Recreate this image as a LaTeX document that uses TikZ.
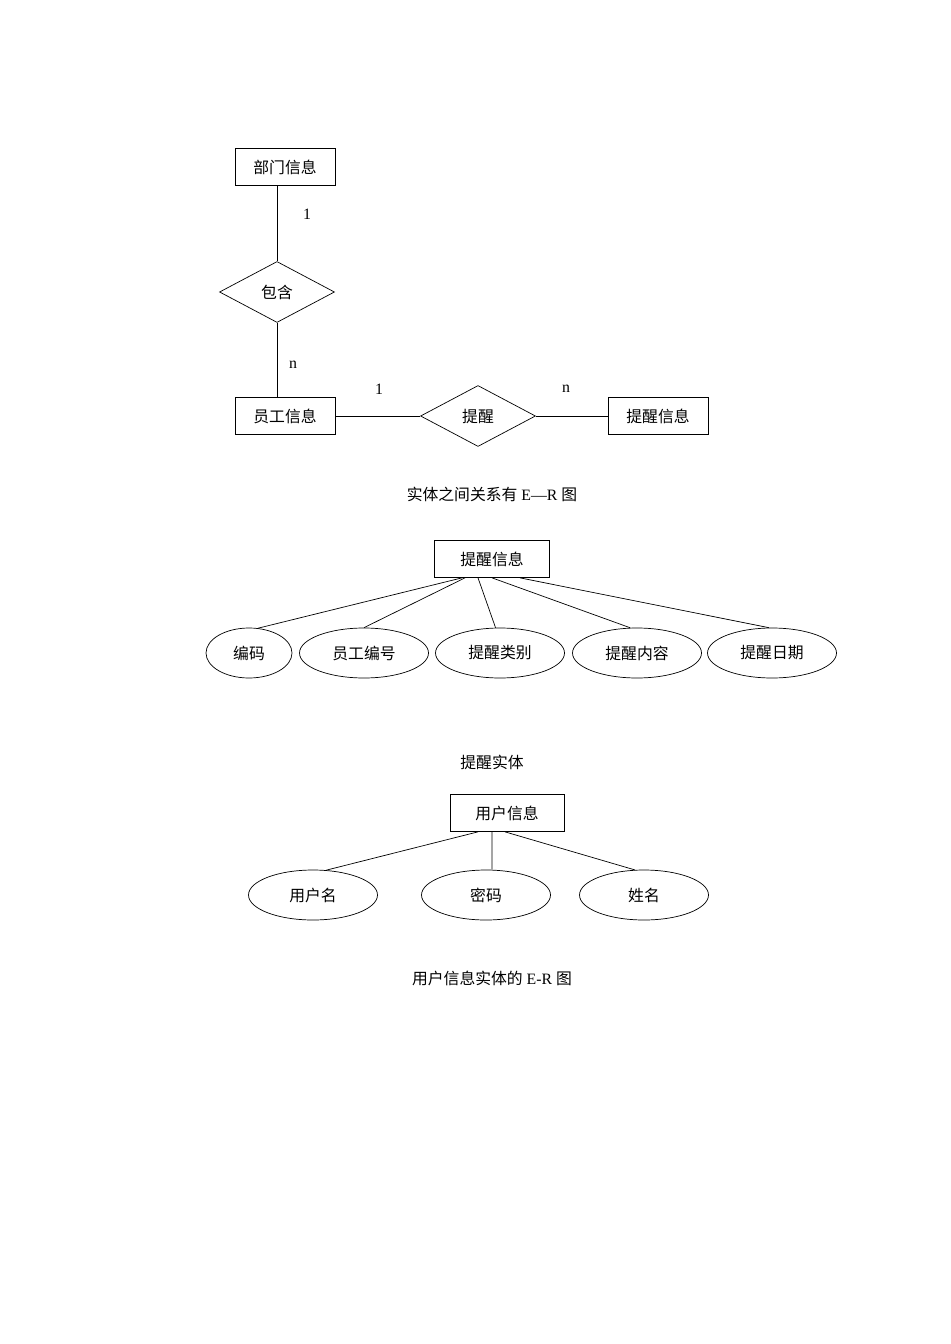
\documentclass[tikz,border=0pt]{standalone}
\usepackage{fontspec}
\setmainfont{Liberation Serif}
\newfontfamily\cjk{Noto Sans CJK SC}
\usetikzlibrary{shapes.geometric,positioning}
\begin{document}
\begin{tikzpicture}
[x=0.02cm, y=-0.02cm, font=\fontsize{9}{11}\selectfont,
% STYLES
entity/.style={rectangle, draw, minimum width=2cm, minimum height=0.74cm, font=\fontsize{9}{11}\selectfont\cjk},
relation/.style={diamond, draw, aspect=1.9, minimum width=2.3cm, minimum height=1.22cm, inner sep=0pt, font=\fontsize{9}{11}\selectfont\cjk},
attr/.style={ellipse, draw, minimum width=2.58cm, minimum height=1cm, inner sep=0pt, font=\fontsize{9}{11}\selectfont\cjk},
caption/.style={font=\fontsize{9}{11}\selectfont}]
\useasboundingbox (0,0) rectangle (950,1344);

% first E-R diagram
\node [entity] (dept) at (285,167) {部门信息};
\node [relation] (contain) at (277,292) {包含};
\node [entity] (staff) at (285,416) {员工信息};
\node [relation] (remind) at (478,416) {提醒};
\node [entity] (rinfo) at (658,416) {提醒信息};
\draw (dept.south -| contain) -- (contain.north);
\draw (contain.south) -- (staff.north -| contain);
\draw (staff.east) -- (remind.west);
\draw (remind.east) -- (rinfo.west);
\node (l1) at (307,214) {1};
\node (l2) at (293,365) {n};
\node (l3) at (379,389) {1};
\node (l4) at (566,389) {n};
\node [caption] (cap1) at (492,494) {{\cjk 实体之间关系有} E—R {\cjk 图}};

% remind entity
\node [entity, minimum width=2.3cm] (remindent) at (492,559) {提醒信息};
\node [attr, minimum width=1.72cm] (code) at (249,653) {编码};
\node [attr] (staffno) at (364,653) {员工编号};
\node [attr] (rtype) at (500,653) {提醒类别};
\node [attr] (rcontent) at (637,653) {提醒内容};
\node [attr] (rdate) at (772,653) {提醒日期};
\draw ([xshift=-0.6cm]remindent.south) -- (code.70);
\draw ([xshift=-0.54cm]remindent.south) -- (staffno.north);
\draw ([xshift=-0.28cm]remindent.south) -- (rtype.100);
\draw (remindent.south) -- (rcontent.105);
\draw ([xshift=0.56cm]remindent.south) -- (rdate.97);
\node [caption] (cap2) at (492,762) {\cjk 提醒实体};

% user entity
\node [entity, minimum width=2.28cm] (user) at (507,813) {用户信息};
\node [attr] (uname) at (313,895) {用户名};
\node [attr] (pwd) at (486,895) {密码};
\node [attr] (realname) at (644,895) {姓名};
\draw ([xshift=-0.58cm]user.south) -- (uname.62);
\draw ([xshift=-0.3cm]user.south) -- ([xshift=0.12cm]pwd.north);
\draw ([xshift=-0.04cm]user.south) -- (realname.110);
\node [caption] (cap3) at (492,978) {{\cjk 用户信息实体的} E-R {\cjk 图}};
\end{tikzpicture}
\end{document}
